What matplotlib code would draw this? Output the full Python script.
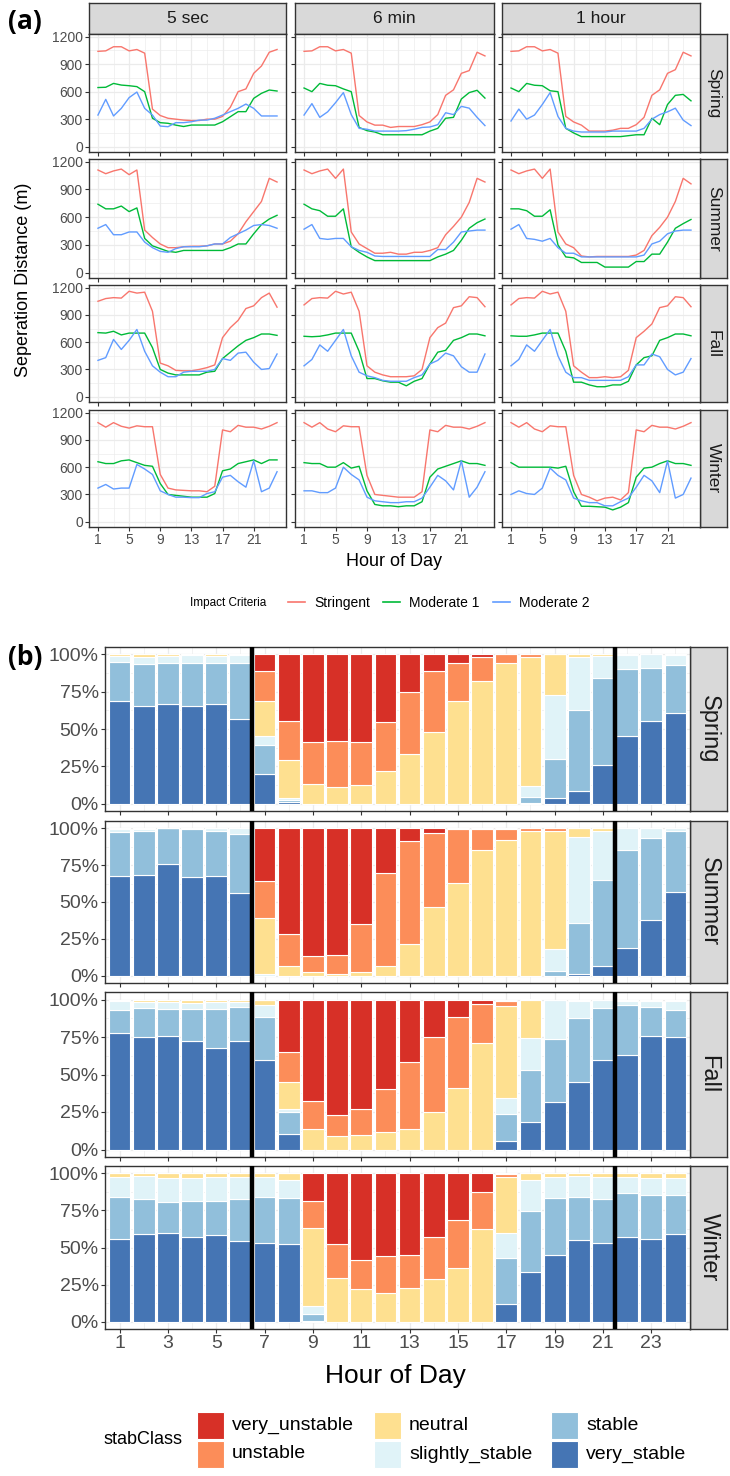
import matplotlib
matplotlib.use("Agg")
import matplotlib.pyplot as plt
from matplotlib.patches import Rectangle
from matplotlib.lines import Line2D
import numpy as np

plt.rcParams['font.family'] = ['Liberation Sans', 'DejaVu Sans']

# ---------------- (a) separation distance ----------------
hours = list(range(1, 25))
seasons = ["Spring", "Summer", "Fall", "Winter"]
periods = ["5 sec", "6 min", "1 hour"]
criteria = ["Stringent", "Moderate 1", "Moderate 2"]

spring_5s_stringent = [1040,1045,1090,1090,1045,1060,1020,410,340,310,300,290,285,285,300,300,330,430,600,630,800,880,1030,1060]
spring_5s_moderate1 = [645,648,690,672,665,655,600,310,262,255,235,220,236,236,236,236,272,327,382,382,527,582,618,607]
spring_5s_moderate2 = [345,516,335,418,535,596,418,345,225,218,262,262,272,290,290,310,345,382,418,465,418,335,335,335]
spring_6m_stringent = [1040,1045,1090,1090,1045,1060,1020,340,270,235,235,210,220,220,220,240,270,350,560,620,800,830,1030,990]
spring_6m_moderate1 = [640,600,690,670,665,630,600,210,175,160,130,130,130,130,130,130,170,200,310,320,520,590,615,530]
spring_6m_moderate2 = [345,470,320,380,480,590,350,200,190,170,170,170,170,175,190,210,215,240,370,350,440,420,320,230]
spring_1h_stringent = [1040,1045,1090,1090,1045,1060,1020,330,270,235,170,170,170,180,200,200,240,320,560,620,800,840,1030,990]
spring_1h_moderate1 = [640,600,690,670,665,610,600,200,150,110,110,110,110,110,110,120,130,130,310,240,460,560,570,500]
spring_1h_moderate2 = [280,410,300,345,460,590,330,200,170,160,160,160,160,170,170,170,170,200,300,350,380,420,290,230]

summer_5s_stringent = [1110,1070,1100,1120,1060,1110,460,380,310,270,270,280,285,285,290,310,310,340,420,550,660,770,1020,980]
summer_5s_moderate1 = [740,690,690,720,660,700,370,290,260,230,220,240,240,240,240,240,240,270,310,310,420,520,580,620]
summer_5s_moderate2 = [480,520,410,410,440,440,330,270,230,220,260,280,280,280,290,310,310,380,420,460,510,520,510,480]
summer_6m_stringent = [1110,1070,1100,1120,1020,1120,440,310,260,210,210,220,200,200,220,220,240,270,410,500,600,760,1020,980]
summer_6m_moderate1 = [740,690,670,610,610,690,280,220,170,130,130,130,130,130,130,130,130,170,200,240,350,480,540,580]
summer_6m_moderate2 = [470,520,370,360,370,370,280,240,220,180,175,175,175,175,175,175,175,250,250,330,440,450,460,460]
summer_1h_stringent = [1110,1070,1100,1120,1020,1120,440,310,270,180,170,175,175,175,175,175,190,240,400,490,600,770,1020,960]
summer_1h_moderate1 = [690,690,670,610,610,680,300,170,160,110,110,110,60,60,60,60,120,120,200,200,330,480,530,575]
summer_1h_moderate2 = [470,520,370,360,340,370,270,210,210,170,170,170,170,170,170,170,170,190,310,340,420,450,460,460]

fall_5s_stringent = [1050,1080,1090,1085,1160,1140,1150,940,370,340,290,285,285,300,320,350,650,760,840,970,1000,1090,1140,985]
fall_5s_moderate1 = [705,700,720,680,700,700,700,540,300,260,240,240,240,240,270,280,420,490,560,620,650,690,690,675]
fall_5s_moderate2 = [400,430,630,520,620,740,500,340,270,220,220,270,280,280,280,300,420,400,480,490,380,300,310,470]
fall_6m_stringent = [1010,1080,1090,1085,1160,1130,1150,940,340,270,240,220,220,220,230,300,650,760,810,980,1000,1100,1090,990]
fall_6m_moderate1 = [665,660,665,680,700,700,700,500,200,200,175,160,160,120,170,200,360,490,510,620,650,690,690,670]
fall_6m_moderate2 = [340,410,570,500,620,740,450,270,230,210,180,170,170,170,210,240,360,400,480,450,330,270,270,470]
fall_1h_stringent = [1010,1080,1090,1085,1160,1130,1150,940,340,270,210,210,220,210,220,290,650,720,800,980,1000,1100,1090,990]
fall_1h_moderate1 = [670,665,665,680,700,700,700,500,160,160,130,110,110,130,130,170,350,430,450,620,650,690,690,670]
fall_1h_moderate2 = [340,410,570,500,620,740,450,270,210,210,180,180,180,180,180,220,350,350,470,440,300,240,270,420]

winter_5s_stringent = [1090,1040,1090,1050,1030,1055,1045,1045,520,370,350,345,340,340,330,390,1010,990,1060,1040,1040,1020,1050,1090]
winter_5s_moderate1 = [660,640,640,670,680,650,620,610,420,300,290,280,270,270,270,310,560,580,640,660,680,640,680,680]
winter_5s_moderate2 = [370,410,360,370,370,630,580,520,340,300,270,270,265,265,310,330,490,510,440,380,670,330,370,550]
winter_6m_stringent = [1090,1040,1090,1020,990,1055,1045,1045,510,300,290,280,270,270,270,330,1010,990,1060,1040,1040,1020,1050,1090]
winter_6m_moderate1 = [650,640,640,600,600,650,590,610,340,190,175,175,165,175,175,220,490,580,610,640,670,640,640,620]
winter_6m_moderate2 = [340,340,320,320,370,600,520,460,270,230,220,210,210,220,220,260,380,510,450,350,670,270,380,550]
winter_1h_stringent = [1090,1040,1090,1020,990,1055,1045,1045,510,300,270,230,260,270,240,320,1010,990,1060,1040,1040,1020,1050,1090]
winter_1h_moderate1 = [650,600,600,600,600,600,590,610,330,170,170,165,160,130,160,210,490,590,600,640,670,640,640,620]
winter_1h_moderate2 = [300,340,310,300,370,590,510,460,260,230,210,210,175,175,220,260,380,510,450,320,670,260,300,480]

line_colors = {"Stringent": "#F8766D", "Moderate 1": "#00BA38", "Moderate 2": "#619CFF"}

distance = {
    ("Spring", "5 sec"): [spring_5s_stringent, spring_5s_moderate1, spring_5s_moderate2],
    ("Spring", "6 min"): [spring_6m_stringent, spring_6m_moderate1, spring_6m_moderate2],
    ("Spring", "1 hour"): [spring_1h_stringent, spring_1h_moderate1, spring_1h_moderate2],
    ("Summer", "5 sec"): [summer_5s_stringent, summer_5s_moderate1, summer_5s_moderate2],
    ("Summer", "6 min"): [summer_6m_stringent, summer_6m_moderate1, summer_6m_moderate2],
    ("Summer", "1 hour"): [summer_1h_stringent, summer_1h_moderate1, summer_1h_moderate2],
    ("Fall", "5 sec"): [fall_5s_stringent, fall_5s_moderate1, fall_5s_moderate2],
    ("Fall", "6 min"): [fall_6m_stringent, fall_6m_moderate1, fall_6m_moderate2],
    ("Fall", "1 hour"): [fall_1h_stringent, fall_1h_moderate1, fall_1h_moderate2],
    ("Winter", "5 sec"): [winter_5s_stringent, winter_5s_moderate1, winter_5s_moderate2],
    ("Winter", "6 min"): [winter_6m_stringent, winter_6m_moderate1, winter_6m_moderate2],
    ("Winter", "1 hour"): [winter_1h_stringent, winter_1h_moderate1, winter_1h_moderate2],
}

# ---------------- (b) stability class shares (%) ----------------
stab_classes = ["very_stable", "stable", "slightly_stable", "neutral", "unstable", "very_unstable"]
stab_colors = {"very_unstable": "#D73027", "unstable": "#FC8D59", "neutral": "#FEE090",
               "slightly_stable": "#E0F3F8", "stable": "#91BFDB", "very_stable": "#4575B4"}

spring_very_stable = [69,65.5,67,65.5,67,57,20,1,0,0,0,0,0,0,0,0,0,0.5,3.4,8.3,26,45,55.5,61]
spring_stable = [26,28,27,28.5,27,37,19.5,1.7,0,0,0,0,0,0,0,0,0,4,26.6,54.7,58,45.5,35.5,32]
spring_slightly_stable = [4,5,5,5.5,5,5.3,5.5,0.7,0,0,0,0,0,0,0,0,0,7.5,43,35.4,15,9,9,6.3]
spring_neutral = [1,1.5,1,0.5,1,0.7,24,25.6,13,11,12.4,21.8,33,48.3,68.5,82.5,94,86.4,27,1.6,1,0.5,0,0.7]
spring_unstable = [0,0,0,0,0,0,20,26.5,28,31,28.6,32.6,42,40.7,25.5,15.9,6,1.6,0,0,0,0,0,0]
spring_very_unstable = [0,0,0,0,0,0,11,44.5,59,58,59,45.6,25,11,6,1.6,0,0,0,0,0,0,0,0]

summer_very_stable = [67.6,68.3,76,67,67.6,55.8,0,0,0,0,0,0,0,0,0,0,0,0,0,1.3,6.7,19,38,57]
summer_stable = [30.2,30,24,32.3,30.8,40.2,0,0,0,0,0,0,0,0,0,0,0,0,3,34.4,58.3,66,55.3,41.4]
summer_slightly_stable = [1.7,1.3,0,0.7,1.6,4,1,0,0,0,0,0,0,0,0,0,0,0,15,58.1,33.4,15,6.7,1.6]
summer_neutral = [0.5,0.4,0,0,0,0,38.3,6.3,2.2,0.9,2.7,6.7,21.4,46.4,63.2,85,92.4,98.4,80.4,6.2,1.6,0,0,0]
summer_unstable = [0,0,0,0,0,0,25,21.7,10.8,13.1,32.6,62.9,70.3,50.3,36.4,14.6,7.2,1.6,1.6,0,0,0,0,0]
summer_very_unstable = [0,0,0,0,0,0,35.7,72,87,86,64.7,30.4,8.3,3.3,0.4,0.4,0.4,0,0,0,0,0,0,0]

fall_very_stable = [77.5,75,75.7,72.4,67.4,72.4,60,10.6,0,0,0,0,0,0,0,0,5.4,18.4,32,44.7,60,63,76,75]
fall_stable = [15.5,19.4,18,21.3,26.3,22.9,28.5,14.6,0,0,0,0,0,0,0,0,18.6,34.9,42,42.9,34.4,33.4,19.3,18]
fall_slightly_stable = [5.9,3.8,4.5,3.8,4.5,2.9,7.9,1.5,0,0,0,0,0,0,0,0,10.2,21.3,25.5,11.3,5.4,2.9,4,6.3]
fall_neutral = [1.1,1.8,1.8,2.5,1.8,1.8,3.6,18,14,8.8,9.4,11.7,14,25.2,41.3,70.8,61.8,25.4,0.5,1.1,0.2,0.7,0.7,0.7]
fall_unstable = [0,0,0,0,0,0,0,20.3,18.4,14.2,17.6,28.7,44.2,49.8,47.2,26.2,3,0,0,0,0,0,0,0]
fall_very_unstable = [0,0,0,0,0,0,0,35,67.6,77,73,59.6,41.8,25,11.5,3,1,0,0,0,0,0,0,0]

winter_very_stable = [55.7,59,60,57.3,58.4,54.6,53.3,52.4,0.7,0,0,0,0,0,0,0,12,33.7,45,55,53.3,57,55.7,59]
winter_stable = [28.6,23.7,21,24.3,23.2,28.1,31,31.2,4.5,0,0,0,0,0,0,0,31,40.9,38.6,29.3,29.4,29.5,29.7,26.4]
winter_slightly_stable = [13,15.7,16,15.4,15.7,15.1,13.5,11.9,5.4,0,0,0,0,0,0,0,17,20.9,13.7,13.9,14.6,11.3,11.6,11.6]
winter_neutral = [2.7,1.6,3,3,2.7,2.2,2.2,4.5,52.8,29.7,22,19.6,23,28.8,36.4,62.5,37.3,4.5,2.7,1.8,2.7,2.2,3,3]
winter_unstable = [0,0,0,0,0,0,0,0,18.2,22.7,19.6,24.7,22,28.1,32.1,24.7,2,0,0,0,0,0,0,0]
winter_very_unstable = [0,0,0,0,0,0,0,0,18.4,47.6,58.4,55.7,55,43.1,31.5,12.8,0.7,0,0,0,0,0,0,0]

shares = {
    "Spring": [spring_very_stable, spring_stable, spring_slightly_stable, spring_neutral, spring_unstable, spring_very_unstable],
    "Summer": [summer_very_stable, summer_stable, summer_slightly_stable, summer_neutral, summer_unstable, summer_very_unstable],
    "Fall": [fall_very_stable, fall_stable, fall_slightly_stable, fall_neutral, fall_unstable, fall_very_unstable],
    "Winter": [winter_very_stable, winter_stable, winter_slightly_stable, winter_neutral, winter_unstable, winter_very_unstable],
}
day_bounds = [6.5, 21.5]

# ---------------- figure helpers ----------------
W, H = 730, 1476
fig = plt.figure(figsize=(W / 100, H / 100), dpi=100)
BORDER = "#333333"
GRID = "#EBEBEB"
TICKTXT = "#4D4D4D"


def add_px_axes(x0, y0, x1, y1):
    return fig.add_axes([x0 / W, 1 - y1 / H, (x1 - x0) / W, (y1 - y0) / H])


def strip(x0, y0, x1, y1, text, size, rotation=0):
    ax = add_px_axes(x0, y0, x1, y1)
    ax.set_facecolor("#D9D9D9")
    ax.set_xticks([]); ax.set_yticks([])
    for s in ax.spines.values():
        s.set_color(BORDER); s.set_linewidth(1.0)
    ax.text(0.5, 0.5, text, transform=ax.transAxes, ha="center", va="center",
            fontsize=size, color="#1A1A1A", rotation=rotation)
    return ax


def style_panel(ax):
    ax.set_facecolor("white")
    for s in ax.spines.values():
        s.set_color(BORDER); s.set_linewidth(1.0)
    ax.grid(True, which="major", color=GRID, linewidth=0.9, zorder=0)
    ax.grid(True, which="minor", color=GRID, linewidth=0.45, zorder=0)
    ax.set_axisbelow(True)
    ax.tick_params(which="major", length=3, color=BORDER, labelcolor=TICKTXT, width=0.8, pad=1.5)
    ax.tick_params(which="minor", length=0)


# ---------------- top panels ----------------
col_x = [(89, 286), (295, 494), (502, 700)]
row_y = [(34, 152), (159, 278), (285, 402), (410, 527)]

for j, (x0, x1) in enumerate(col_x):
    strip(x0, 3, x1, 34, periods[j], 12.5)
for i, (y0, y1) in enumerate(row_y):
    strip(700, y0, 727, y1, seasons[i], 12.5, rotation=-90)

for i, season in enumerate(seasons):
    for j, period in enumerate(periods):
        x0, x1 = col_x[j]; y0, y1 = row_y[i]
        ax = add_px_axes(x0, y0, x1, y1)
        style_panel(ax)
        for name, vals in zip(criteria, distance[(season, period)]):
            ax.plot(hours, vals, color=line_colors[name], linewidth=1.0, zorder=3)
        ax.set_xlim(-0.15, 25.15)
        ax.set_ylim(-58, 1229)
        ax.set_xticks([1, 5, 9, 13, 17, 21])
        ax.set_xticks([3, 7, 11, 15, 19, 23], minor=True)
        ax.set_yticks([0, 300, 600, 900, 1200])
        ax.set_yticks([150, 450, 750, 1050], minor=True)
        ax.tick_params(labelsize=10)
        if j != 0:
            ax.set_yticklabels([])
        if i != 3:
            ax.set_xticklabels([])

fig.text(24 / W, 1 - 280 / H, "Seperation Distance (m)", rotation=90, ha="center", va="center",
         fontsize=13, color="black")
fig.text(394 / W, 1 - 561 / H, "Hour of Day", ha="center", va="center", fontsize=13, color="black")
fig.text(8 / W, 1 - 22 / H, "(a)", ha="left", va="center", fontsize=19, fontweight="bold",
         family=["Open Sans", "DejaVu Sans"])

# legend for criteria
fig.text(190 / W, 1 - 603 / H, "Impact Criteria", ha="left", va="center", fontsize=8.5)
leg_items = [(288, 314, "Stringent"), (383, 409, "Moderate 1"), (493, 519, "Moderate 2")]
for (kx, tx, name) in leg_items:
    fig.add_artist(Line2D([kx / W, (kx + 17) / W], [1 - 602 / H, 1 - 602 / H],
                          color=line_colors[name], linewidth=1.2))
    fig.text(tx / W, 1 - 603 / H, name, ha="left", va="center", fontsize=10)

# ---------------- bottom panels ----------------
brow_y = [(647, 811), (821, 983), (992, 1157), (1166, 1329)]
bx0, bx1 = 105, 690

for i, season in enumerate(seasons):
    y0, y1 = brow_y[i]
    strip(bx1, y0, 727, y1, season, 17, rotation=-90)
    ax = add_px_axes(bx0, y0, bx1, y1)
    style_panel(ax)
    bottom = np.zeros(len(hours))
    for cls, vals in zip(stab_classes, shares[season]):
        v = np.array(vals, dtype=float)
        ax.bar(hours, v, bottom=bottom, width=0.9, color=stab_colors[cls],
               edgecolor="white", linewidth=0.8, zorder=2)
        bottom += v
    for xb in day_bounds:
        ax.axvline(xb, color="black", linewidth=3.2, zorder=4)
    ax.set_xlim(0.4, 24.6)
    ax.set_ylim(-5, 105)
    ax.set_xticks(list(range(1, 25, 2)))
    ax.set_xticks(list(range(2, 25, 2)), minor=True)
    ax.set_yticks([0, 25, 50, 75, 100])
    ax.set_yticklabels(["0%", "25%", "50%", "75%", "100%"])
    ax.set_yticks([12.5, 37.5, 62.5, 87.5], minor=True)
    ax.tick_params(labelsize=14)
    if i != 3:
        ax.set_xticklabels([])

fig.text(395 / W, 1 - 1376 / H, "Hour of Day", ha="center", va="center", fontsize=19, color="black")
fig.text(8 / W, 1 - 658 / H, "(b)", ha="left", va="center", fontsize=19, fontweight="bold",
         family=["Open Sans", "DejaVu Sans"])

# legend for stability classes
fig.text(103 / W, 1 - 1440 / H, "stabClass", ha="left", va="center", fontsize=13)
legend_cols = [(197, ["very_unstable", "unstable"]),
               (374, ["neutral", "slightly_stable"]),
               (551, ["stable", "very_stable"])]
row_centers = [1425, 1454]
for kx, names in legend_cols:
    for rc, name in zip(row_centers, names):
        fig.add_artist(Rectangle((kx / W, 1 - (rc + 13.5) / H), 27 / W, 27 / H,
                                 transform=fig.transFigure, facecolor=stab_colors[name],
                                 edgecolor="white", linewidth=0.8))
        fig.text((kx + 35) / W, 1 - rc / H, name, ha="left", va="center", fontsize=14)

fig.savefig("out.png", dpi=100)
